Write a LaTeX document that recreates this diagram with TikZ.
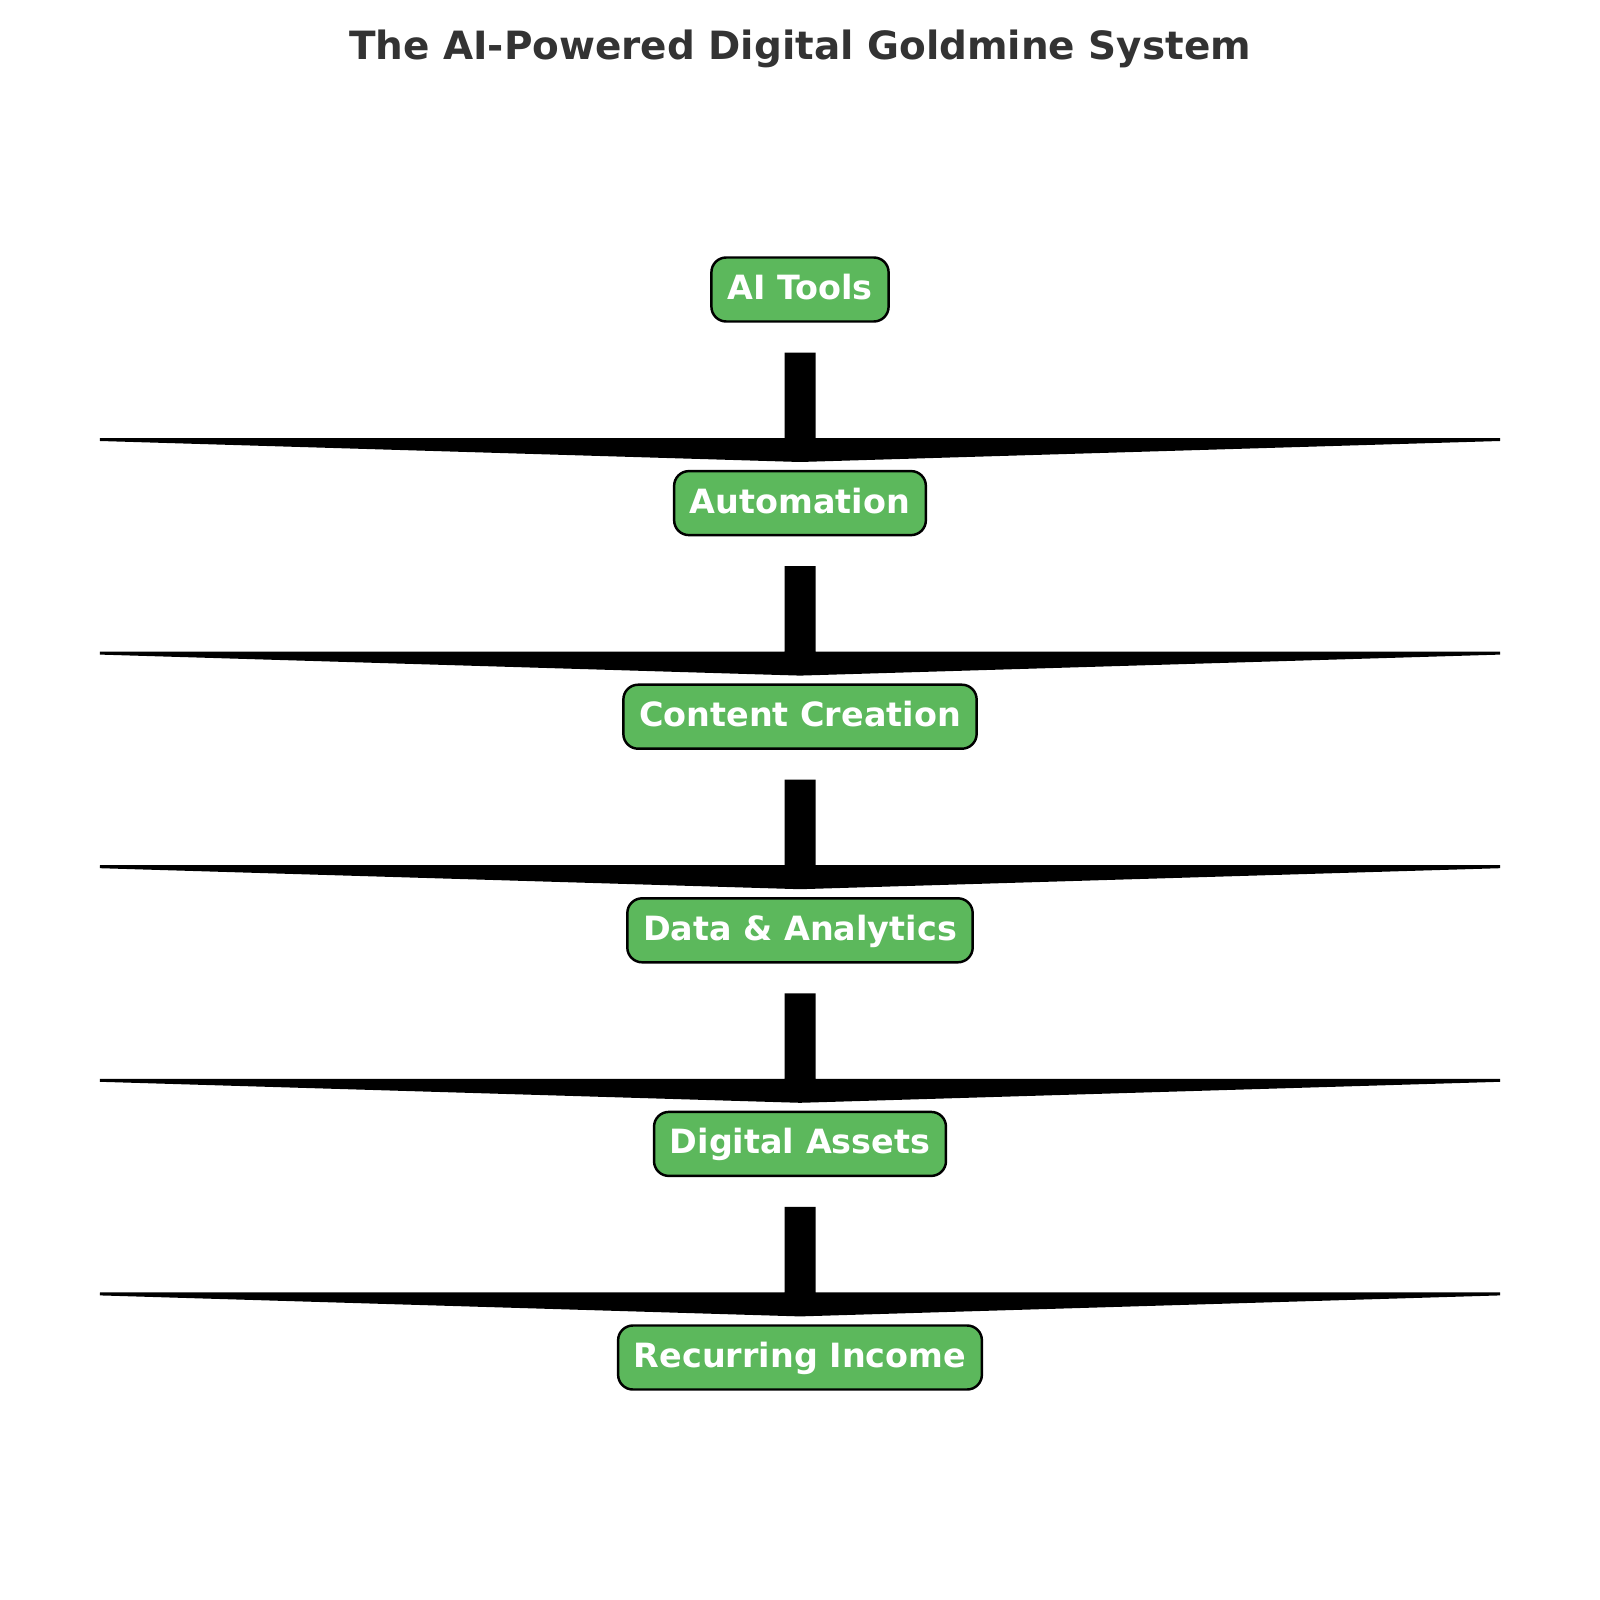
\documentclass[tikz,border=0pt]{standalone}
\usepackage{fontspec}
\setmainfont{DejaVu Sans}
\usetikzlibrary{calc}
\definecolor{boxgreen}{HTML}{5CB85C}
\definecolor{titlegray}{HTML}{333333}
\tikzset{
  stepbox/.style={draw=black, line width=0.7pt, fill=boxgreen, rounded corners=4.2pt,
    text=white, font=\fontsize{9.5}{11.4}\selectfont\bfseries,
    text height=0.8em, text depth=0.23em, inner xsep=4.5pt, inner ysep=0pt,
    minimum height=18.2pt},
  flowarrow/.style={fill=black, draw=black, line width=0.85pt, line join=miter},
  titletext/.style={anchor=base, text=titlegray, font=\fontsize{11.07}{13}\selectfont\bfseries}
}
\begin{document}
\begin{tikzpicture}[x=0.01cm, y=-0.01cm]
\useasboundingbox (0,0) rectangle (1600,1600);
\node[titletext] (title) at (800,59.3) {The AI-Powered Digital Goldmine System};
\node[stepbox] (n1) at (800,289.5) {AI Tools};
\node[stepbox] (n2) at (800,503.1) {Automation};
\node[stepbox] (n3) at (800,716.7) {Content Creation};
\node[stepbox] (n4) at (800,930.3) {Data \& Analytics};
\node[stepbox] (n5) at (800,1143.9) {Digital Assets};
\node[stepbox] (n6) at (800,1357.5) {Recurring Income};
\foreach \a/\b in {n1/n2, n2/n3, n3/n4, n4/n5, n5/n6} {
  \filldraw[flowarrow]
    ($(\a.center)+(-14,64.5)$) -- ($(\a.center)+(14,64.5)$)
    -- ($(\b.center)+(14,-63.6)$) -- ($(\b.center)+(700,-63.6)$)
    -- ($(\b.center)+(0,-42.6)$) -- ($(\b.center)+(-700,-63.6)$)
    -- ($(\b.center)+(-14,-63.6)$) -- cycle;
}
\end{tikzpicture}
\end{document}
